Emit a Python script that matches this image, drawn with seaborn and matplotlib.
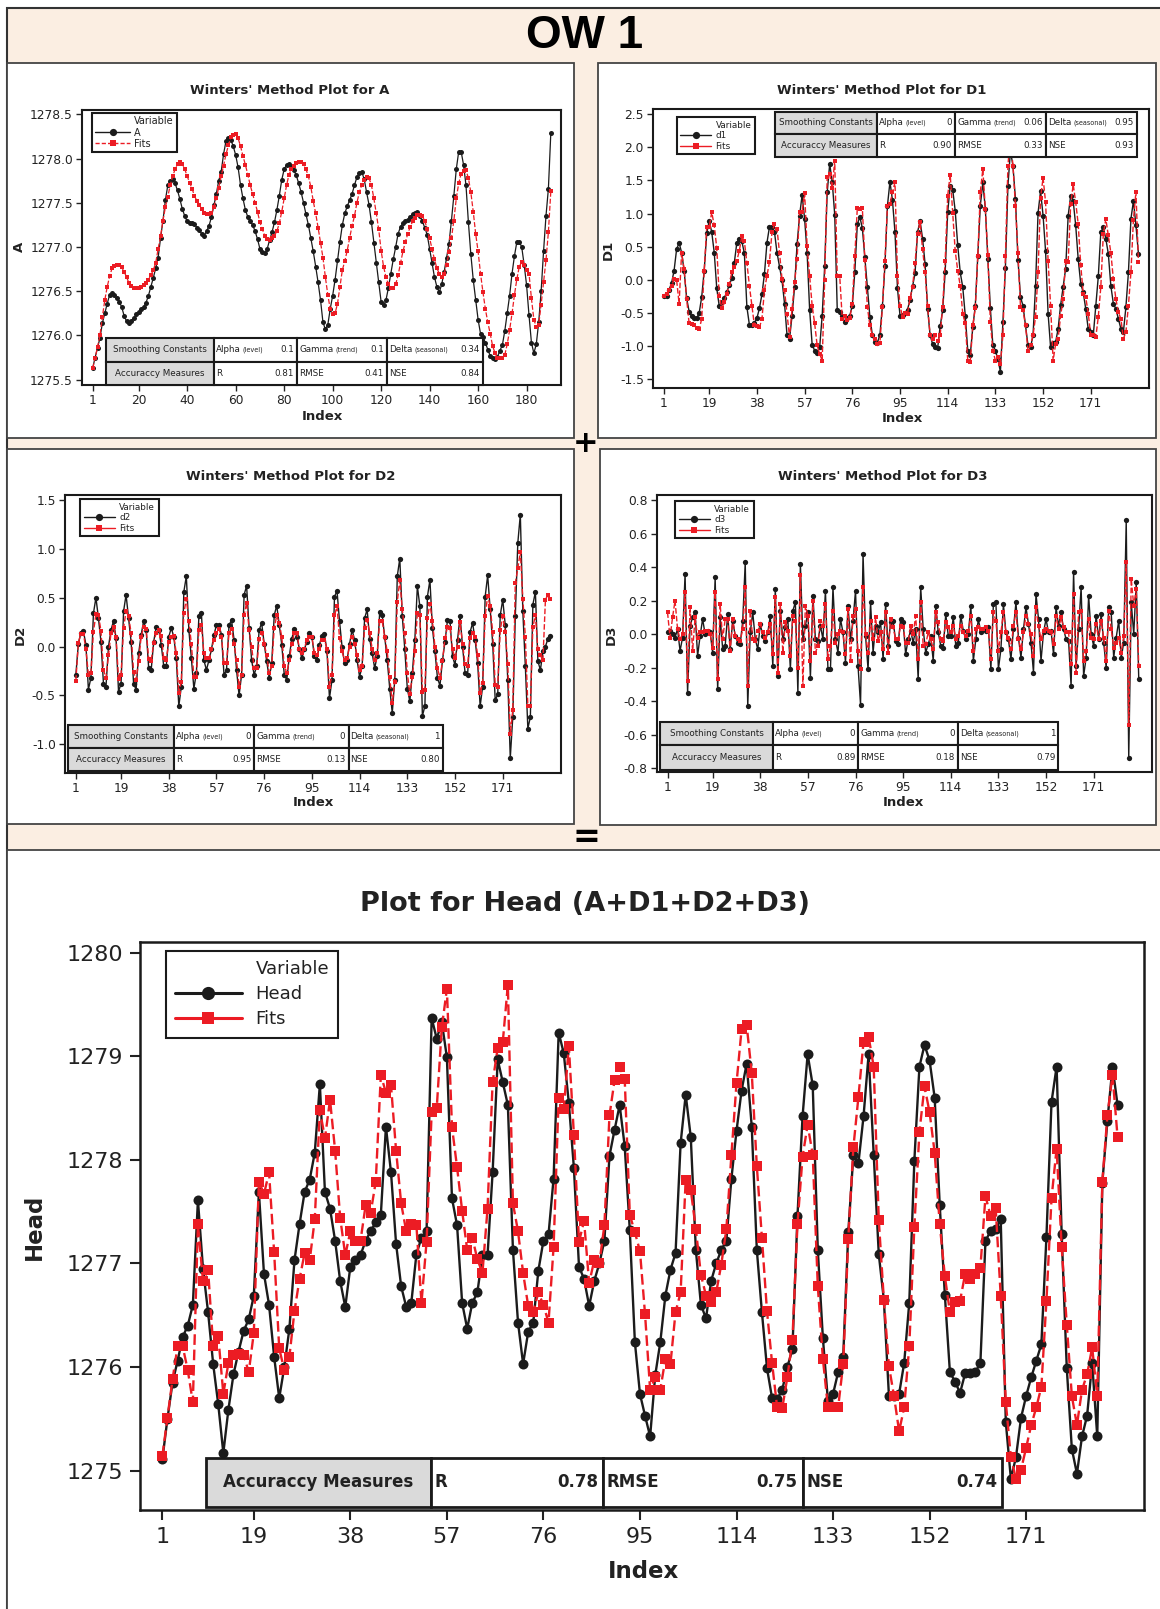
import matplotlib
matplotlib.use("Agg")
import matplotlib.pyplot as plt
import seaborn as sns
import pandas as pd
from matplotlib.patches import Rectangle
from matplotlib.lines import Line2D
from matplotlib.ticker import FormatStrFormatter

# ------------------------------------------------------------------ data
a_obs = [1275.63, 1275.75, 1275.86, 1275.97, 1276.14, 1276.25, 1276.36, 1276.46, 1276.48, 1276.46,
         1276.42, 1276.38, 1276.32, 1276.22, 1276.16, 1276.14, 1276.16, 1276.20, 1276.24, 1276.26,
         1276.30, 1276.32, 1276.37, 1276.45, 1276.55, 1276.65, 1276.76, 1276.88, 1277.10, 1277.30,
         1277.53, 1277.70, 1277.75, 1277.77, 1277.72, 1277.64, 1277.54, 1277.43, 1277.35, 1277.29,
         1277.27, 1277.27, 1277.26, 1277.22, 1277.19, 1277.15, 1277.13, 1277.18, 1277.24, 1277.34,
         1277.47, 1277.60, 1277.75, 1277.85, 1278.05, 1278.20, 1278.23, 1278.21, 1278.14, 1278.04,
         1277.90, 1277.70, 1277.55, 1277.42, 1277.34, 1277.29, 1277.25, 1277.18, 1277.09, 1276.98,
         1276.94, 1276.93, 1276.98, 1277.08, 1277.17, 1277.28, 1277.42, 1277.58, 1277.76, 1277.88,
         1277.93, 1277.94, 1277.91, 1277.87, 1277.81, 1277.72, 1277.62, 1277.50, 1277.37, 1277.25,
         1277.10, 1276.95, 1276.78, 1276.60, 1276.40, 1276.15, 1276.07, 1276.12, 1276.30, 1276.45,
         1276.63, 1276.85, 1277.06, 1277.25, 1277.38, 1277.46, 1277.53, 1277.60, 1277.70, 1277.79,
         1277.84, 1277.85, 1277.77, 1277.62, 1277.48, 1277.28, 1277.05, 1276.82, 1276.60, 1276.38,
         1276.34, 1276.40, 1276.54, 1276.70, 1276.86, 1277.00, 1277.15, 1277.23, 1277.27, 1277.29,
         1277.31, 1277.34, 1277.37, 1277.39, 1277.40, 1277.35, 1277.29, 1277.22, 1277.14, 1276.98,
         1276.82, 1276.66, 1276.55, 1276.49, 1276.58, 1276.72, 1276.88, 1277.04, 1277.30, 1277.58,
         1277.88, 1278.08, 1278.08, 1277.93, 1277.70, 1277.28, 1276.92, 1276.63, 1276.40, 1276.18,
         1276.02, 1275.98, 1275.92, 1275.84, 1275.77, 1275.74, 1275.73, 1275.76, 1275.83, 1275.89,
         1276.05, 1276.25, 1276.45, 1276.70, 1276.90, 1277.06, 1277.06, 1277.00, 1276.80, 1276.57,
         1276.23, 1275.92, 1275.80, 1275.90, 1276.15, 1276.50, 1276.95, 1277.35, 1277.66, 1278.29]
a_fit = [1275.63, 1275.74, 1275.87, 1276.00, 1276.21, 1276.40, 1276.55, 1276.67, 1276.76, 1276.79,
         1276.80, 1276.80, 1276.77, 1276.72, 1276.66, 1276.59, 1276.56, 1276.54, 1276.54, 1276.54,
         1276.55, 1276.57, 1276.59, 1276.63, 1276.68, 1276.74, 1276.82, 1276.98, 1277.12, 1277.30,
         1277.45, 1277.57, 1277.70, 1277.80, 1277.88, 1277.94, 1277.96, 1277.94, 1277.88, 1277.80,
         1277.73, 1277.66, 1277.58, 1277.52, 1277.48, 1277.43, 1277.39, 1277.37, 1277.37, 1277.38,
         1277.45, 1277.56, 1277.67, 1277.80, 1277.92, 1278.05, 1278.15, 1278.24, 1278.27, 1278.28,
         1278.23, 1278.14, 1278.03, 1277.93, 1277.82, 1277.70, 1277.60, 1277.50, 1277.40, 1277.28,
         1277.20, 1277.13, 1277.09, 1277.08, 1277.10, 1277.13, 1277.18, 1277.27, 1277.40, 1277.55,
         1277.70, 1277.82, 1277.88, 1277.92, 1277.95, 1277.96, 1277.96, 1277.94, 1277.88, 1277.80,
         1277.68, 1277.52, 1277.38, 1277.22, 1277.05, 1276.88, 1276.66, 1276.46, 1276.30, 1276.24,
         1276.25, 1276.36, 1276.55, 1276.74, 1276.84, 1276.96, 1277.10, 1277.24, 1277.35, 1277.50,
         1277.62, 1277.70, 1277.76, 1277.79, 1277.78, 1277.70, 1277.55, 1277.38, 1277.20, 1276.96,
         1276.78, 1276.66, 1276.58, 1276.54, 1276.54, 1276.58, 1276.68, 1276.82, 1276.95, 1277.06,
         1277.15, 1277.23, 1277.29, 1277.33, 1277.36, 1277.36, 1277.35, 1277.30, 1277.20, 1277.10,
         1276.98, 1276.86, 1276.76, 1276.70, 1276.66, 1276.70, 1276.80, 1276.94, 1277.10, 1277.30,
         1277.55, 1277.72, 1277.83, 1277.86, 1277.87, 1277.78, 1277.62, 1277.40, 1277.15, 1276.95,
         1276.70, 1276.49, 1276.30, 1276.15, 1276.02, 1275.88, 1275.80, 1275.75, 1275.74, 1275.74,
         1275.78, 1275.90, 1276.06, 1276.25, 1276.46, 1276.64, 1276.78, 1276.83, 1276.80, 1276.74,
         1276.70, 1276.42, 1276.18, 1276.10, 1276.12, 1276.35, 1276.60, 1276.85, 1277.17, 1277.63]

d1_obs = [-0.25, -0.24, -0.15, -0.05, 0.14, 0.46, 0.56, 0.41, 0.14, -0.28,
          -0.48, -0.55, -0.58, -0.58, -0.50, -0.26, 0.14, 0.70, 0.89, 0.72,
          0.41, -0.13, -0.40, -0.34, -0.28, -0.18, -0.08, 0.02, 0.26, 0.56,
          0.62, 0.58, 0.40, -0.41, -0.68, -0.69, -0.65, -0.58, -0.43, -0.22,
          0.09, 0.56, 0.80, 0.79, 0.72, 0.41, 0.20, -0.01, -0.36, -0.84,
          -0.89, -0.54, -0.11, 0.54, 0.97, 1.28, 0.92, 0.40, -0.45, -0.98,
          -1.07, -1.10, -1.02, -0.54, 0.21, 1.32, 1.75, 1.48, 0.98, -0.45,
          -0.48, -0.55, -0.64, -0.58, -0.54, -0.39, 0.12, 0.84, 0.95, 0.78,
          0.34, -0.11, -0.56, -0.84, -0.94, -0.95, -0.83, -0.39, 0.21, 1.12,
          1.48, 1.20, 0.72, -0.13, -0.54, -0.53, -0.50, -0.45, -0.30, -0.10,
          0.10, 0.72, 0.89, 0.62, 0.24, -0.44, -0.84, -0.97, -1.02, -1.03,
          -0.70, -0.46, 0.12, 1.02, 1.42, 1.36, 1.04, 0.52, 0.11, -0.11,
          -0.54, -1.07, -1.13, -0.72, -0.39, 0.36, 1.12, 1.47, 1.07, 0.31,
          -0.43, -0.99, -1.07, -1.20, -1.39, -0.64, 0.18, 1.42, 1.95, 1.72,
          1.22, 0.30, -0.26, -0.39, -0.69, -0.99, -1.02, -0.84, -0.09, 1.01,
          1.34, 0.97, 0.43, -0.51, -1.02, -0.95, -0.94, -0.74, -0.38, -0.11,
          0.17, 0.97, 1.27, 1.19, 0.82, 0.31, -0.06, -0.19, -0.44, -0.75,
          -0.79, -0.84, -0.39, 0.05, 0.72, 0.79, 0.62, 0.39, -0.09, -0.36,
          -0.44, -0.59, -0.74, -0.79, -0.41, 0.11, 0.92, 1.19, 0.82, 0.39]
d1_fit = [-0.25, -0.21, -0.15, -0.10, 0.01, 0.00, -0.36, 0.41, 0.16, -0.29,
          -0.66, -0.67, -0.69, -0.73, -0.75, -0.59, 0.14, 0.79, 0.80, 1.02,
          0.82, 0.48, -0.24, -0.43, -0.34, -0.21, -0.06, 0.11, 0.20, 0.29,
          0.44, 0.66, 0.58, 0.26, -0.09, -0.39, -0.69, -0.70, -0.72, -0.59,
          -0.16, 0.06, 0.27, 0.72, 0.84, 0.77, 0.41, 0.01, -0.16, -0.51,
          -0.87, -0.44, -0.04, 0.31, 1.02, 1.03, 1.31, 0.51, 0.06, -0.39,
          -0.66, -0.99, -1.12, -1.22, 0.00, 1.55, 1.60, 1.38, 1.80, 0.05,
          0.05, -0.59, -0.55, -0.61, -0.58, -0.36, 0.36, 1.09, 1.07, 1.08,
          0.30, -0.41, -0.69, -0.84, -0.89, -0.97, -0.95, -0.41, 0.29, 1.12,
          1.14, 1.32, 1.47, 0.06, -0.39, -0.56, -0.50, -0.51, -0.28, -0.11,
          0.26, 0.69, 0.87, 0.46, 0.11, -0.39, -0.84, -0.89, -0.84, -0.92,
          -0.84, -0.41, 0.29, 1.27, 1.59, 1.01, 0.43, 0.14, -0.09, -0.51,
          -0.66, -1.22, -1.24, -0.69, -0.43, 0.36, 1.33, 1.67, 1.07, 0.37,
          -0.64, -1.07, -1.22, -1.17, -1.27, -0.84, 0.36, 1.72, 2.20, 1.72,
          1.12, 0.41, -0.41, -0.46, -0.69, -1.07, -0.99, -0.84, -0.56, 0.11,
          1.24, 1.54, 1.17, 0.29, -0.39, -1.22, -0.97, -0.89, -0.54, -0.29,
          0.29, 0.27, 1.14, 1.44, 1.17, 0.84, 0.22, -0.21, -0.26, -0.51,
          -0.84, -0.84, -0.87, -0.56, -0.11, 0.69, 0.92, 0.67, 0.41, 0.01,
          -0.29, -0.49, -0.59, -0.89, -0.79, -0.39, 0.11, 0.91, 1.33, 0.27]

d2_obs = [-0.29, 0.03, 0.14, 0.16, 0.02, -0.44, -0.32, 0.34, 0.50, 0.29,
          0.05, -0.38, -0.41, 0.00, 0.17, 0.26, 0.09, -0.46, -0.38, 0.36,
          0.53, 0.29, 0.05, -0.38, -0.44, -0.07, 0.12, 0.26, 0.17, -0.22,
          -0.24, 0.05, 0.20, 0.17, 0.02, -0.20, -0.20, 0.10, 0.19, 0.10,
          -0.12, -0.61, -0.41, 0.56, 0.72, 0.17, -0.12, -0.43, -0.27, 0.31,
          0.34, -0.14, -0.24, -0.14, -0.03, 0.12, 0.22, 0.22, 0.12, -0.29,
          -0.24, 0.22, 0.27, 0.07, -0.24, -0.50, -0.29, 0.53, 0.62, 0.19,
          -0.14, -0.29, -0.20, 0.17, 0.24, 0.03, -0.15, -0.32, -0.17, 0.32,
          0.42, 0.22, 0.02, -0.29, -0.34, -0.10, 0.08, 0.18, 0.10, -0.02,
          -0.12, -0.03, 0.05, 0.14, 0.10, -0.10, -0.14, 0.02, 0.11, 0.13,
          -0.05, -0.53, -0.34, 0.51, 0.57, 0.26, 0.00, -0.17, -0.14, 0.03,
          0.17, 0.07, -0.14, -0.31, -0.20, 0.29, 0.38, 0.08, -0.07, -0.22,
          -0.10, 0.35, 0.32, 0.10, -0.14, -0.43, -0.68, -0.34, 0.72, 0.90,
          0.31, -0.03, -0.43, -0.56, -0.27, 0.07, 0.62, 0.41, -0.71, -0.61,
          0.51, 0.68, 0.19, -0.05, -0.32, -0.40, -0.14, 0.05, 0.27, 0.26,
          -0.10, -0.19, 0.07, 0.31, 0.00, -0.27, -0.29, 0.15, 0.24, 0.07,
          -0.17, -0.61, -0.41, 0.51, 0.73, 0.38, 0.03, -0.55, -0.49, 0.32,
          0.48, 0.22, -0.34, -1.14, -0.72, 0.31, 1.06, 1.35, 0.36, -0.20,
          -0.84, -0.72, 0.43, 0.56, -0.15, -0.24, -0.05, 0.00, 0.08, 0.11]
d2_fit = [-0.35, 0.04, 0.13, 0.13, -0.02, -0.29, -0.27, 0.15, 0.33, 0.32,
          0.16, -0.24, -0.32, -0.09, 0.14, 0.20, 0.10, -0.33, -0.29, 0.19,
          0.36, 0.31, 0.14, -0.26, -0.34, -0.15, 0.10, 0.20, 0.18, -0.13,
          -0.15, 0.04, 0.14, 0.17, 0.11, -0.12, -0.14, 0.05, 0.10, 0.11,
          -0.07, -0.48, -0.36, 0.34, 0.49, 0.26, 0.03, -0.31, -0.31, 0.17,
          0.22, -0.07, -0.12, -0.12, -0.03, 0.07, 0.14, 0.18, 0.10, -0.17,
          -0.17, 0.14, 0.18, 0.03, -0.14, -0.41, -0.29, 0.32, 0.45, 0.17,
          0.00, -0.22, -0.22, 0.08, 0.14, 0.03, -0.09, -0.27, -0.20, 0.19,
          0.32, 0.24, 0.10, -0.20, -0.27, -0.14, 0.03, 0.14, 0.14, -0.02,
          -0.07, -0.02, 0.07, 0.10, 0.10, -0.07, -0.09, -0.02, 0.07, 0.07,
          -0.02, -0.41, -0.29, 0.32, 0.41, 0.09, -0.05, -0.14, -0.12, 0.00,
          0.10, 0.03, -0.09, -0.24, -0.20, 0.19, 0.27, 0.14, -0.02, -0.14,
          -0.07, 0.26, 0.26, 0.10, -0.05, -0.31, -0.58, -0.36, 0.46, 0.68,
          0.38, 0.14, -0.27, -0.49, -0.31, -0.05, 0.34, 0.32, -0.46, -0.44,
          0.29, 0.44, 0.26, 0.00, -0.22, -0.32, -0.15, 0.09, 0.20, 0.19,
          -0.03, -0.12, 0.00, 0.25, 0.03, -0.18, -0.20, 0.09, 0.14, 0.10,
          -0.09, -0.48, -0.37, 0.31, 0.52, 0.41, 0.15, -0.39, -0.41, 0.17,
          0.31, 0.15, -0.18, -0.90, -0.65, 0.65, 0.80, 0.97, 0.49, 0.10,
          -0.61, -0.61, 0.20, 0.32, -0.03, -0.09, -0.14, 0.48, 0.53, 0.49]

d3_obs = [0.01, 0.02, 0.00, -0.02, 0.03, -0.10, -0.02, 0.36, -0.35, 0.05,
          0.10, 0.13, -0.13, -0.01, 0.09, 0.00, 0.02, 0.01, -0.11, 0.34,
          -0.33, 0.10, -0.09, -0.07, 0.12, -0.09, 0.08, -0.01, -0.05, -0.06,
          0.08, 0.43, -0.43, 0.01, 0.13, -0.03, -0.09, 0.06, -0.01, -0.04,
          0.01, 0.11, -0.19, 0.27, -0.25, 0.14, -0.03, 0.04, 0.09, -0.21,
          0.14, 0.19, -0.35, 0.42, -0.03, 0.05, 0.13, -0.26, 0.23, -0.03,
          -0.04, 0.05, -0.03, 0.26, -0.21, -0.21, 0.28, -0.03, -0.11, 0.09,
          0.01, -0.17, 0.17, -0.03, 0.08, 0.26, -0.19, -0.42, 0.48, -0.01,
          -0.21, 0.19, -0.11, 0.05, 0.01, 0.07, -0.15, 0.18, -0.07, 0.07,
          0.08, -0.04, -0.06, 0.09, 0.07, -0.12, -0.03, 0.02, -0.05, 0.03,
          -0.27, 0.28, 0.03, -0.11, -0.06, -0.01, -0.16, 0.17, 0.01, -0.07,
          -0.08, 0.12, -0.01, -0.01, 0.10, -0.07, -0.05, 0.11, 0.02, -0.03,
          0.00, 0.17, -0.16, -0.03, 0.09, 0.01, 0.03, 0.02, 0.04, -0.21,
          0.18, 0.19, -0.21, -0.09, 0.18, 0.01, -0.03, -0.15, 0.03, 0.19,
          -0.02, -0.14, 0.03, 0.16, 0.06, -0.05, -0.23, 0.24, 0.09, -0.16,
          0.01, 0.09, 0.01, 0.02, -0.12, 0.16, 0.05, 0.13, 0.03, -0.03,
          -0.04, -0.31, 0.37, -0.19, 0.03, 0.28, -0.25, -0.14, 0.23, 0.00,
          -0.07, 0.11, -0.03, 0.12, -0.05, -0.20, 0.16, 0.13, -0.14, -0.02,
          0.08, -0.14, -0.05, 0.68, -0.74, 0.19, 0.00, 0.31, -0.27]
d3_fit = [0.13, -0.02, 0.10, 0.20, 0.03, -0.03, 0.00, 0.25, -0.28, 0.16,
          -0.10, 0.10, -0.02, 0.01, 0.01, 0.02, 0.02, 0.00, -0.08, 0.25,
          -0.27, 0.18, -0.03, 0.09, 0.09, -0.10, 0.09, -0.01, -0.03, -0.04,
          0.03, 0.28, -0.31, 0.14, -0.03, -0.04, 0.02, 0.06, 0.01, -0.02,
          0.01, 0.06, -0.12, 0.22, -0.23, 0.18, -0.11, 0.07, 0.02, -0.13,
          0.11, 0.08, -0.20, 0.35, -0.31, 0.17, 0.11, -0.16, 0.20, -0.11,
          -0.07, 0.08, 0.05, 0.18, -0.15, -0.07, 0.14, -0.05, 0.00, 0.02,
          0.01, -0.12, 0.15, -0.16, 0.11, 0.15, -0.10, -0.21, 0.28, 0.00,
          -0.11, 0.08, -0.03, 0.10, -0.04, 0.01, -0.09, 0.13, -0.11, 0.09,
          0.04, -0.03, -0.03, 0.05, 0.04, -0.05, -0.05, 0.05, 0.00, 0.11,
          -0.15, 0.19, -0.07, -0.06, 0.01, -0.03, -0.09, 0.13, 0.07, -0.03,
          -0.04, 0.07, 0.04, 0.01, 0.05, -0.03, -0.01, 0.05, 0.01, -0.01,
          0.02, 0.11, -0.10, 0.03, 0.04, 0.03, 0.03, 0.04, 0.02, -0.15,
          0.13, 0.08, -0.10, 0.01, 0.13, 0.01, -0.02, -0.09, 0.05, 0.13,
          -0.03, -0.09, 0.01, 0.11, 0.06, 0.00, -0.13, 0.16, 0.05, -0.03,
          0.02, 0.03, 0.02, 0.01, -0.06, 0.11, 0.03, 0.10, 0.04, 0.01,
          0.01, -0.18, 0.24, -0.23, 0.13, 0.14, -0.16, -0.10, 0.09, -0.02,
          -0.03, 0.06, -0.03, 0.08, -0.02, -0.16, 0.14, 0.03, -0.08, -0.05,
          -0.02, -0.11, -0.01, 0.43, -0.54, 0.33, 0.17, 0.27, -0.19]

head_obs = [1275.11, 1275.50, 1275.85, 1276.06, 1276.29, 1276.40, 1276.60, 1277.61, 1276.95, 1276.53,
            1276.03, 1275.64, 1275.17, 1275.59, 1275.93, 1276.15, 1276.35, 1276.46, 1276.69, 1277.69,
            1276.90, 1276.60, 1276.10, 1275.70, 1276.00, 1276.37, 1277.03, 1277.38, 1277.69, 1277.81,
            1278.07, 1278.73, 1277.69, 1277.53, 1277.22, 1276.83, 1276.58, 1276.97, 1277.03, 1277.08,
            1277.22, 1277.31, 1277.40, 1277.47, 1278.32, 1277.88, 1277.19, 1276.78, 1276.58, 1276.62,
            1277.09, 1277.25, 1277.31, 1279.37, 1279.17, 1279.33, 1278.99, 1277.63, 1277.37, 1276.62,
            1276.37, 1276.62, 1276.72, 1277.08, 1277.08, 1277.88, 1278.97, 1278.75, 1278.53, 1277.13,
            1276.43, 1276.03, 1276.34, 1276.43, 1276.93, 1277.22, 1277.28, 1277.82, 1279.23, 1279.03,
            1278.55, 1277.92, 1276.97, 1276.85, 1276.59, 1276.83, 1277.00, 1277.22, 1278.04, 1278.29,
            1278.53, 1278.13, 1277.32, 1276.24, 1275.74, 1275.53, 1275.33, 1275.92, 1276.24, 1276.69,
            1276.94, 1277.10, 1278.16, 1278.63, 1278.22, 1277.13, 1276.60, 1276.47, 1276.83, 1277.00,
            1277.13, 1277.22, 1277.82, 1278.28, 1278.67, 1278.93, 1278.32, 1277.13, 1276.53, 1275.99,
            1275.70, 1275.69, 1275.78, 1276.00, 1276.17, 1277.46, 1278.42, 1279.02, 1278.72, 1277.13,
            1276.28, 1275.67, 1275.74, 1275.95, 1276.10, 1277.30, 1278.05, 1277.97, 1278.42, 1279.02,
            1278.05, 1277.09, 1276.65, 1275.72, 1275.72, 1275.74, 1276.04, 1276.62, 1277.99, 1278.90,
            1279.11, 1278.96, 1278.60, 1277.56, 1276.70, 1275.95, 1275.86, 1275.75, 1275.94, 1275.94,
            1275.95, 1276.04, 1277.22, 1277.31, 1277.33, 1277.43, 1275.47, 1274.92, 1275.13, 1275.51,
            1275.72, 1275.90, 1276.06, 1276.22, 1277.26, 1278.56, 1278.90, 1277.28, 1275.99, 1275.21,
            1274.97, 1275.33, 1275.53, 1276.04, 1275.33, 1277.78, 1278.38, 1278.90, 1278.53]
head_fit = [1275.14, 1275.51, 1275.88, 1276.20, 1276.20, 1275.97, 1275.66, 1277.38, 1276.83, 1276.94,
            1276.20, 1276.30, 1275.74, 1276.04, 1276.12, 1276.13, 1276.12, 1275.95, 1276.33, 1277.79,
            1277.67, 1277.88, 1277.11, 1276.18, 1275.97, 1276.10, 1276.54, 1276.85, 1277.10, 1277.03,
            1277.43, 1278.48, 1278.21, 1278.58, 1278.09, 1277.44, 1277.08, 1277.31, 1277.22, 1277.22,
            1277.56, 1277.49, 1277.79, 1278.82, 1278.65, 1278.72, 1278.09, 1277.58, 1277.31, 1277.38,
            1277.37, 1276.62, 1277.21, 1278.46, 1278.50, 1279.28, 1279.65, 1278.32, 1277.93, 1277.51,
            1277.13, 1277.25, 1277.04, 1276.91, 1277.53, 1278.75, 1279.08, 1279.14, 1279.69, 1277.58,
            1277.31, 1276.91, 1276.59, 1276.53, 1276.72, 1276.60, 1276.43, 1277.16, 1278.60, 1278.49,
            1279.10, 1278.24, 1277.21, 1277.41, 1276.81, 1277.03, 1277.00, 1277.37, 1278.43, 1278.77,
            1278.90, 1278.78, 1277.47, 1277.30, 1277.12, 1276.51, 1275.78, 1275.90, 1275.78, 1276.08,
            1276.03, 1276.53, 1276.72, 1277.81, 1277.71, 1277.33, 1276.89, 1276.69, 1276.63, 1276.72,
            1276.99, 1277.33, 1278.05, 1278.74, 1279.26, 1279.30, 1278.84, 1277.94, 1277.25, 1276.54,
            1276.04, 1275.61, 1275.60, 1275.90, 1276.26, 1277.38, 1278.03, 1278.34, 1278.05, 1276.78,
            1276.08, 1275.61, 1275.61, 1275.61, 1276.03, 1277.24, 1278.12, 1278.61, 1279.14, 1279.19,
            1278.90, 1277.42, 1276.65, 1276.01, 1275.72, 1275.38, 1275.61, 1276.20, 1277.35, 1278.27,
            1278.71, 1278.46, 1278.07, 1277.38, 1276.88, 1276.53, 1276.63, 1276.64, 1276.90, 1276.85,
            1276.90, 1276.96, 1277.65, 1277.46, 1277.54, 1276.69, 1275.66, 1275.13, 1274.92, 1275.01,
            1275.22, 1275.44, 1275.61, 1275.81, 1276.64, 1277.63, 1278.11, 1277.16, 1276.41, 1275.72,
            1275.44, 1275.78, 1275.93, 1276.19, 1275.72, 1277.79, 1278.43, 1278.82, 1278.22]

a_xticks = [1, 20, 40, 60, 80, 100, 120, 140, 160, 180]
d_xticks = [1, 19, 38, 57, 76, 95, 114, 133, 152, 171]
a_yticks = [1275.5, 1276.0, 1276.5, 1277.0, 1277.5, 1278.0, 1278.5]
d1_yticks = [-1.5, -1.0, -0.5, 0.0, 0.5, 1.0, 1.5, 2.0, 2.5]
d2_yticks = [-1.0, -0.5, 0.0, 0.5, 1.0, 1.5]
d3_yticks = [-0.8, -0.6, -0.4, -0.2, 0.0, 0.2, 0.4, 0.6, 0.8]
head_yticks = [1275, 1276, 1277, 1278, 1279, 1280]

a_smooth = [("Alpha", "(level)", "0.1"), ("Gamma", "(trend)", "0.1"), ("Delta", "(seasonal)", "0.34")]
a_acc = [("R", "", "0.81"), ("RMSE", "", "0.41"), ("NSE", "", "0.84")]
d1_smooth = [("Alpha", "(level)", "0"), ("Gamma", "(trend)", "0.06"), ("Delta", "(seasonal)", "0.95")]
d1_acc = [("R", "", "0.90"), ("RMSE", "", "0.33"), ("NSE", "", "0.93")]
d2_smooth = [("Alpha", "(level)", "0"), ("Gamma", "(trend)", "0"), ("Delta", "(seasonal)", "1")]
d2_acc = [("R", "", "0.95"), ("RMSE", "", "0.13"), ("NSE", "", "0.80")]
d3_smooth = [("Alpha", "(level)", "0"), ("Gamma", "(trend)", "0"), ("Delta", "(seasonal)", "1")]
d3_acc = [("R", "", "0.89"), ("RMSE", "", "0.18"), ("NSE", "", "0.79")]
head_acc = [("R", "0.78"), ("RMSE", "0.75"), ("NSE", "0.74")]

# ------------------------------------------------------------------ style
W, H = 1160, 1609
sns.set_theme(style="ticks")
plt.rcParams["font.family"] = ["DejaVu Sans"]
plt.rcParams["axes.unicode_minus"] = False

BLACK = "#1b1b1b"
RED = "#ec1c24"
TXT = "#222222"
GRAY = "#dadada"
BEIGE = "#fbeee2"
XLIM = (-3.4, 194.2)

fig = plt.figure(figsize=(W / 100, H / 100), dpi=100)
fig.patch.set_facecolor("white")
renderer = fig.canvas.get_renderer()


def fx(x):
    return x / W


def fy(y):
    return 1 - y / H


def box(x0, y0, x1, y1, fc, ec="#1a1a1a", lw=1.2, z=5):
    r = Rectangle((fx(x0), fy(y1)), fx(x1) - fx(x0), fy(y0) - fy(y1),
                  transform=fig.transFigure, facecolor=fc, edgecolor=ec,
                  linewidth=lw, zorder=z)
    fig.add_artist(r)
    return r


def ftext(x, y, s, **kw):
    kw.setdefault("color", TXT)
    kw.setdefault("zorder", 6)
    return fig.text(fx(x), fy(y), s, **kw)


def make_axes(x0, y0, x1, y1):
    return fig.add_axes([fx(x0), fy(y1), fx(x1) - fx(x0), fy(y0) - fy(y1)])


# ------------------------------------------------------------------ page layout
box(7, 8, 1165, 1615, BEIGE, ec="#333333", lw=1.5, z=-10)
for (x0, y0, x1, y1) in [(7, 63, 574, 438), (598, 63, 1156, 438),
                         (7, 449, 574, 824), (600, 449, 1156, 825),
                         (7, 850, 1165, 1615)]:
    box(x0, y0, x1, y1, "white", ec="#444444", lw=1.3, z=-9)

ftext(585, 36, "OW 1", ha="center", va="center", fontsize=33, fontweight="bold",
      family=["Liberation Sans", "DejaVu Sans"], color="black")
ftext(586, 443, "+", ha="center", va="center", fontsize=22, fontweight="bold", color="black")
ftext(586, 838, "=", ha="center", va="center", fontsize=24, fontweight="bold", color="black")


def plot_pair(ax, obs, fit, ms, lw, dash):
    df_obs = pd.DataFrame({"Index": range(1, len(obs) + 1), "value": obs})
    df_fit = pd.DataFrame({"Index": range(1, len(fit) + 1), "value": fit})
    sns.lineplot(data=df_obs, x="Index", y="value", ax=ax, color=BLACK, linewidth=lw,
                 marker="o", markersize=ms, markeredgewidth=0, markeredgecolor=BLACK,
                 estimator=None, legend=False)
    sns.lineplot(data=df_fit, x="Index", y="value", ax=ax, color=RED, linewidth=lw,
                 marker="s", markersize=ms * 0.92, markeredgewidth=0, markeredgecolor=RED,
                 linestyle=dash, estimator=None, legend=False)
    ax.set_xlabel("")
    ax.set_ylabel("")


def style_axes(ax, ylim, yticks, xticks, fmt, fs, tlen, twidth, spw, pad):
    ax.set_xlim(*XLIM)
    ax.set_ylim(*ylim)
    ax.set_xticks(xticks)
    ax.set_yticks(yticks)
    if fmt:
        ax.yaxis.set_major_formatter(FormatStrFormatter(fmt))
    ax.tick_params(direction="out", length=tlen, width=twidth, labelsize=fs,
                   pad=pad, colors=TXT)
    for s in ax.spines.values():
        s.set_visible(True)
        s.set_linewidth(spw)
        s.set_color("#1a1a1a")
    ax.set_facecolor("white")


def legend_box(x0, y0, name, fs, ms, lw, fit_dash, hl, pad, spacing, tpad):
    blank = Line2D([], [], linestyle="none")
    h_obs = Line2D([], [], color=BLACK, marker="o", markersize=ms, linewidth=lw,
                   markeredgewidth=0)
    h_fit = Line2D([], [], color=RED, marker="s", markersize=ms * 0.95, linewidth=lw,
                   markeredgewidth=0, linestyle=fit_dash)
    leg = fig.legend([blank, h_obs, h_fit], ["Variable", name, "Fits"],
                     loc="upper left", bbox_to_anchor=(fx(x0), fy(y0)),
                     bbox_transform=fig.transFigure, borderaxespad=0,
                     frameon=True, fancybox=False, shadow=False, fontsize=fs,
                     handlelength=hl, borderpad=pad, labelspacing=spacing,
                     handletextpad=tpad)
    fr = leg.get_frame()
    fr.set_edgecolor("#1a1a1a")
    fr.set_linewidth(1.5)
    fr.set_facecolor("white")
    fr.set_alpha(1)
    for t in leg.get_texts():
        t.set_color(TXT)
    return leg


def small_table(xs, ys, rows, fs=6.3, pfs=4.7):
    for r, (head, cells) in enumerate(rows):
        y0, y1 = ys[r], ys[r + 1]
        ym = (y0 + y1) / 2
        box(xs[0], y0, xs[1], y1, GRAY, lw=1.5)
        ftext((xs[0] + xs[1]) / 2, ym, head, ha="center", va="center", fontsize=fs)
        for c, (name, paren, val) in enumerate(cells):
            xa, xb = xs[c + 1], xs[c + 2]
            box(xa, y0, xb, y1, "white", lw=1.5)
            t = ftext(xa + 2, ym, name, ha="left", va="center", fontsize=fs)
            if paren:
                bb = t.get_window_extent(renderer)
                ftext(bb.x1 + 2, ym, paren, ha="left", va="center", fontsize=pfs)
            ftext(xb - 3, ym, val, ha="right", va="center", fontsize=fs)


SMALL = dict(fs=8.8, tlen=4, twidth=1.0, spw=1.5, pad=2.5)
DASH_S = (0, (4, 1.6))

# ------------------------------------------------------------------ A
ax = make_axes(82, 110, 561, 385)
plot_pair(ax, a_obs, a_fit, 3.6, 0.9, DASH_S)
style_axes(ax, (1275.44, 1278.55), a_yticks, a_xticks, "%.1f", **SMALL)
ftext(290, 90, "Winters' Method Plot for A", ha="center", va="center",
      fontsize=9.5, fontweight="bold")
ftext(19, 247, "A", ha="center", va="center", rotation=90, fontsize=9.5, fontweight="bold")
ftext(322, 416, "Index", ha="center", va="center", fontsize=9.5, fontweight="bold")
legend_box(92, 113, "A", 7, 5.2, 1.0, (0, (3, 1.5)), 3.6, 0.35, 0.12, 0.35)
small_table([106, 214, 297, 387, 483], [338, 362, 385],
            [("Smoothing Constants", a_smooth), ("Accuraccy Measures", a_acc)])

# ------------------------------------------------------------------ D1
ax = make_axes(653, 109.3, 1149, 387.7)
plot_pair(ax, d1_obs, d1_fit, 3.8, 1.0, DASH_S)
style_axes(ax, (-1.63, 2.575), d1_yticks, d_xticks, "%.1f", **SMALL)
ftext(882, 91, "Winters' Method Plot for D1", ha="center", va="center",
      fontsize=9.5, fontweight="bold")
ftext(608, 250, "D1", ha="center", va="center", rotation=90, fontsize=9.5, fontweight="bold")
ftext(902, 418, "Index", ha="center", va="center", fontsize=9.5, fontweight="bold")
legend_box(676.5, 117, "d1", 6.4, 5.2, 1.0, "-", 3.5, 0.4, 0.18, 0.5)
small_table([775, 877, 955, 1046, 1136.5], [111.7, 134, 156.7],
            [("Smoothing Constants", d1_smooth), ("Accuraccy Measures", d1_acc)])

# ------------------------------------------------------------------ D2
ax = make_axes(64.8, 495, 561, 772.7)
plot_pair(ax, d2_obs, d2_fit, 3.8, 1.0, DASH_S)
style_axes(ax, (-1.291, 1.551), d2_yticks, d_xticks, "%.1f", **SMALL)
ftext(290.5, 476, "Winters' Method Plot for D2", ha="center", va="center",
      fontsize=9.5, fontweight="bold")
ftext(20, 635, "D2", ha="center", va="center", rotation=90, fontsize=9.5, fontweight="bold")
ftext(313, 803, "Index", ha="center", va="center", fontsize=9.5, fontweight="bold")
legend_box(80, 499, "d2", 6.4, 5.2, 1.0, "-", 3.5, 0.4, 0.18, 0.5)
small_table([68, 174, 254.4, 348.5, 442.6], [725, 748.3, 771],
            [("Smoothing Constants", d2_smooth), ("Accuraccy Measures", d2_acc)])

# ------------------------------------------------------------------ D3
ax = make_axes(656.5, 495, 1151.8, 772.3)
plot_pair(ax, d3_obs, d3_fit, 3.8, 1.0, DASH_S)
style_axes(ax, (-0.824, 0.83), d3_yticks, d_xticks, "%.1f", **SMALL)
ftext(883, 476, "Winters' Method Plot for D3", ha="center", va="center",
      fontsize=9.5, fontweight="bold")
ftext(611, 635, "D3", ha="center", va="center", rotation=90, fontsize=9.5, fontweight="bold")
ftext(903.5, 803, "Index", ha="center", va="center", fontsize=9.5, fontweight="bold")
legend_box(675, 501, "d3", 6.4, 5.2, 1.0, "-", 3.5, 0.4, 0.18, 0.5)
small_table([660, 773, 858.4, 958, 1058.4], [721.7, 745, 770],
            [("Smoothing Constants", d3_smooth), ("Accuraccy Measures", d3_acc)])

# ------------------------------------------------------------------ Head
ax = make_axes(140, 942.4, 1144, 1510)
plot_pair(ax, head_obs, head_fit, 7.2, 1.7, (0, (4.5, 2)))
style_axes(ax, (1274.62, 1280.10), head_yticks, d_xticks, None,
           fs=16, tlen=7, twidth=1.5, spw=1.8, pad=5)
ftext(585, 904, "Plot for Head (A+D1+D2+D3)", ha="center", va="center",
      fontsize=19.5, fontweight="bold")
ftext(34, 1227, "Head", ha="center", va="center", rotation=90, fontsize=16.5,
      fontweight="bold")
ftext(643, 1571, "Index", ha="center", va="center", fontsize=16.5, fontweight="bold")
legend_box(166, 951, "Head", 13, 9.5, 2.2, "-", 3.7, 0.5, 0.4, 0.75)

# accuracy strip inside the Head axes
hx = [205.6, 431, 603, 802.5, 1002]
hy0, hy1 = 1457.7, 1506.7
hm = (hy0 + hy1) / 2
box(hx[0], hy0, hx[1], hy1, GRAY, lw=2.0)
ftext((hx[0] + hx[1]) / 2, hm, "Accuraccy Measures", ha="center", va="center",
      fontsize=12, fontweight="bold")
for c, (name, val) in enumerate(head_acc):
    xa, xb = hx[c + 1], hx[c + 2]
    box(xa, hy0, xb, hy1, "white", lw=2.0)
    ftext(xa + 4, hm, name, ha="left", va="center", fontsize=12, fontweight="bold")
    ftext(xb - 5, hm, val, ha="right", va="center", fontsize=12, fontweight="bold")

fig.savefig("out.png", dpi=100)
